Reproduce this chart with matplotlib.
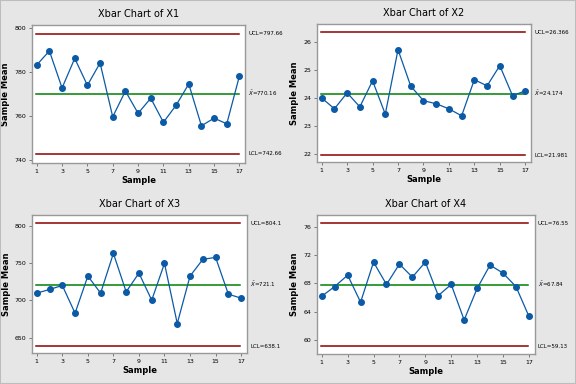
import matplotlib.pyplot as plt
import numpy as np

samples = np.arange(1, 18)

x1 = [783.3, 789.7, 772.8, 786.3, 774.0, 784.2, 759.6, 771.4, 761.2, 768.1,
      757.1, 764.9, 774.6, 755.5, 759.0, 756.4, 778.3]
x2 = [24.02, 23.63, 24.20, 23.70, 24.63, 23.44, 25.74, 24.44, 23.92, 23.81,
      23.63, 23.38, 24.67, 24.45, 25.17, 24.10, 24.27]
x3 = [709.9, 714.8, 720.2, 682.9, 732.8, 709.9, 763.3, 711.7, 736.8, 700.4,
      749.9, 669.0, 732.8, 755.3, 758.0, 708.5, 703.1]
x4 = [66.2, 67.57, 69.18, 65.35, 71.03, 67.86, 70.75, 68.9, 71.03, 66.29,
      67.86, 62.83, 67.29, 70.61, 69.47, 67.57, 63.36]

names = ['X1', 'X2', 'X3', 'X4']
ucl = [797.66, 26.366, 804.1, 76.55]
center = [770.16, 24.174, 721.1, 67.84]
lcl = [742.66, 21.981, 638.1, 59.13]
ucl_txt = ['797.66', '26.366', '804.1', '76.55']
center_txt = ['770.16', '24.174', '721.1', '67.84']
lcl_txt = ['742.66', '21.981', '638.1', '59.13']
yticks = [[740, 760, 780, 800], [22, 23, 24, 25, 26], [650, 700, 750, 800], [60, 64, 68, 72, 76]]
ylims = [(738.5, 801.5), (21.73, 26.65), (629.3, 814.8), (58.0, 77.7)]
data = [x1, x2, x3, x4]

rects = [
    [0.0556, 0.5755, 0.370, 0.359],
    [0.5503, 0.578, 0.3715, 0.359],
    [0.0556, 0.0807, 0.373, 0.359],
    [0.5503, 0.078, 0.378, 0.362],
]

bg = '#e6e6e6'
fig = plt.figure(figsize=(5.76, 3.84), dpi=100, facecolor=bg)
fig.patches.append(plt.Rectangle((0, 0), 1, 1, transform=fig.transFigure,
                                 fill=False, edgecolor='#bdbdbd', lw=1.5))

for i in range(4):
    ax = fig.add_axes(rects[i])
    ax.set_facecolor('white')
    ax.axhline(ucl[i], color='#8b0000', lw=1.1, xmin=0.02, xmax=0.97)
    ax.axhline(lcl[i], color='#8b0000', lw=1.1, xmin=0.02, xmax=0.97)
    ax.axhline(center[i], color='#008000', lw=1.1, xmin=0.02, xmax=0.97)
    ax.plot(samples, data[i], color='#0b5aa6', lw=0.9, marker='o', ms=4)
    ax.set_xlim(0.63, 17.45)
    ax.set_ylim(*ylims[i])
    ax.set_xticks(range(1, 18, 2))
    ax.set_yticks(yticks[i])
    ax.tick_params(labelsize=4.5, length=2, width=0.6, color='#666666', pad=2)
    for s in ax.spines.values():
        s.set_color('#999999')
        s.set_linewidth(1.0)
    ax.set_title('Xbar Chart of ' + names[i], fontsize=7, pad=6)
    ax.set_xlabel('Sample', fontsize=6, fontweight='bold', labelpad=2)
    ax.set_ylabel('Sample Mean', fontsize=6, fontweight='bold', labelpad=3)
    tr = ax.get_yaxis_transform()
    ax.text(1.015, ucl[i], 'UCL=' + ucl_txt[i], transform=tr, fontsize=4,
            va='center', ha='left')
    ax.text(1.015, center[i], r'$\bar{X}$=' + center_txt[i], transform=tr,
            fontsize=4, va='center', ha='left')
    ax.text(1.015, lcl[i], 'LCL=' + lcl_txt[i], transform=tr, fontsize=4,
            va='center', ha='left')

fig.savefig('out.png', dpi=100, facecolor=bg)
